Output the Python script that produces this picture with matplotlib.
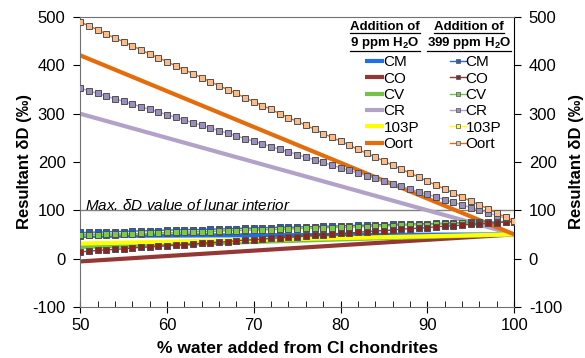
import numpy as np
import matplotlib.pyplot as plt
from matplotlib.lines import Line2D

plt.rcParams['font.family'] = ['Liberation Sans', 'DejaVu Sans']
plt.rcParams['mathtext.fontset'] = 'custom'
plt.rcParams['mathtext.rm'] = 'Liberation Sans'
plt.rcParams['mathtext.bf'] = 'Liberation Sans:bold'
plt.rcParams['mathtext.it'] = 'Liberation Sans:italic'
plt.rcParams['axes.unicode_minus'] = False

groups = ['CM', 'CO', 'CV', 'CR', '103P', 'Oort']
line_colors = ['#1f6fe8', '#953735', '#77c148', '#b3a2c7', '#ffff00', '#e46c0a']
marker_colors = ['#1f5fd0', '#8b2525', '#7cc84a', '#9b8fbd', '#ffff40', '#f9bb8c']

# 9 ppm H2O addition: straight mixing lines, read at 50 % and 100 %
x_line = [50, 100]
low_add = {
    'CM': [47, 50],
    'CO': [-6, 50],
    'CV': [24, 50],
    'CR': [300, 50],
    '103P': [31, 50],
    'Oort': [421, 50],
}

# 399 ppm H2O addition: one marker per 1 % step
x_pts = np.arange(50, 101)
high_add = {
    'CM': [54, 54, 55, 55, 56, 56, 57, 57, 58, 58, 59, 59, 60, 60, 60, 61, 61, 62, 62, 63,
           63, 64, 64, 65, 65, 65, 66, 66, 67, 67, 68, 68, 69, 69, 70, 70, 71, 71, 71, 72,
           72, 73, 73, 74, 74, 75, 75, 76, 76, 77, 77],
    'CO': [14, 15, 17, 18, 19, 20, 22, 23, 24, 25, 27, 28, 29, 30, 32, 33, 34, 35, 37, 38,
           39, 40, 42, 43, 44, 45, 47, 48, 49, 51, 52, 53, 54, 56, 57, 58, 59, 61, 62, 63,
           64, 66, 67, 68, 69, 71, 72, 73, 74, 76, 77],
    'CV': [48, 49, 49, 50, 50, 51, 51, 52, 52, 53, 54, 54, 55, 55, 56, 56, 57, 58, 58, 59,
           59, 60, 60, 61, 61, 62, 63, 63, 64, 64, 65, 65, 66, 66, 67, 68, 68, 69, 69, 70,
           70, 71, 72, 72, 73, 73, 74, 74, 75, 75, 76],
    'CR': [353, 347.5, 342, 336.5, 331, 325.5, 320, 314.5, 309, 303.5, 298, 292.5, 287,
           281.5, 276, 270.5, 265, 259.5, 254, 248.5, 243, 237.5, 232, 226.5, 221, 215.5,
           210, 204.5, 199, 193.5, 188, 182.5, 177, 171.5, 166, 160.5, 155, 149.5, 144,
           138.5, 133, 127.5, 122, 116.5, 111, 105.5, 100, 94.5, 89, 83.5, 78],
    '103P': [47, 48, 48, 49, 49, 50, 50, 51, 52, 52, 53, 53, 54, 55, 55, 56, 56, 57, 57, 58,
             59, 59, 60, 60, 61, 62, 62, 63, 63, 64, 64, 65, 66, 66, 67, 67, 68, 69, 69, 70,
             70, 71, 71, 72, 73, 73, 74, 74, 75, 75, 76],
    'Oort': [490, 482, 474, 465, 457, 449, 441, 432, 424, 416, 408, 399, 391, 383, 375, 366,
             358, 350, 342, 333, 325, 317, 309, 300, 292, 284, 276, 268, 259, 251, 243, 235,
             226, 218, 210, 202, 193, 185, 177, 169, 160, 152, 144, 136, 127, 119, 111, 103,
             94, 86, 78],
}
lunar_max = 100

fig = plt.figure(figsize=(5.85, 3.58), dpi=100)
ax = fig.add_axes([0.137, 0.143, 0.742, 0.809])

ax.axhline(lunar_max, color='#808080', lw=1, zorder=1)
ax.text(50.6, lunar_max + 1, r'Max. $\mathit{\delta}$D value of lunar interior',
        style='italic', fontsize=11, va='baseline', ha='left')

line_handles = []
for name, c in zip(groups, line_colors):
    h, = ax.plot(x_line, low_add[name], color=c, lw=3, solid_capstyle='butt', zorder=2)
    line_handles.append(h)

marker_handles = {}
draw_order = ['CM', '103P', 'CV', 'CO', 'CR', 'Oort']
for name in draw_order:
    i = groups.index(name)
    h, = ax.plot(x_pts, high_add[name], color=line_colors[i], lw=1, marker='s',
                 markersize=4.4, markerfacecolor=marker_colors[i],
                 markeredgecolor='#505050', markeredgewidth=0.7, zorder=3)
    marker_handles[name] = h

ax.set_xlim(50, 100)
ax.set_ylim(-100, 500)
ax.set_xticks(range(50, 101, 10))
ax.set_xticks(range(50, 101, 2), minor=True)
ax.set_yticks(range(-100, 501, 100))
ax.tick_params(axis='x', which='major', direction='inout', length=8, labelsize=12, pad=4)
ax.tick_params(axis='x', which='minor', direction='in', length=4)
ax.tick_params(axis='y', which='major', direction='out', length=5, labelsize=12, pad=5.5,
               left=True, right=True, labelleft=True, labelright=True)

for s in ['left', 'bottom', 'top']:
    ax.spines[s].set_color('#707070')
ax.spines['right'].set_color('black')

ax.set_xlabel('% water added from CI chondrites', fontsize=12.5, fontweight='bold', labelpad=6)
ax.set_ylabel('Resultant δD (‰)', fontsize=12, fontweight='bold', labelpad=0)
fig.text(0.986, 0.55, 'Resultant δD (‰)', fontsize=12, fontweight='bold', rotation=90,
         ha='center', va='center')

leg1 = ax.legend(line_handles, groups, loc='upper right',
                 bbox_to_anchor=(0.781, 0.868), frameon=False, fontsize=11,
                 handlelength=1.2, handletextpad=0,
                 labelspacing=0.15, borderpad=0, borderaxespad=0)
ax.add_artist(leg1)
mh = [Line2D([], [], color=marker_handles[n].get_color(), lw=1, marker='s', markersize=3.3,
             markerfacecolor=marker_handles[n].get_markerfacecolor(),
             markeredgecolor='#505050', markeredgewidth=0.5) for n in groups]
leg2 = ax.legend(mh, groups, loc='upper right', bbox_to_anchor=(0.970, 0.868),
                 frameon=False, fontsize=11, handlelength=1.05,
                 handletextpad=0, labelspacing=0.15, borderpad=0, borderaxespad=0)

# column headers, bold and underlined
headers = [(0.702, 'Addition of', '9 ppm H$_\\mathbf{2}$O'),
           (0.896, 'Addition of', '399 ppm H$_\\mathbf{2}$O')]
head_texts = []
for xh, l1, l2 in headers:
    head_texts.append(ax.text(xh, 0.967, l1, transform=ax.transAxes, ha='center',
                              va='center', fontsize=9.5, fontweight='bold'))
    head_texts.append(ax.text(xh, 0.910, l2, transform=ax.transAxes, ha='center',
                              va='center', fontsize=9.5, fontweight='bold'))
fig.canvas.draw()
inv = fig.transFigure.inverted()
for t in head_texts:
    bb = t.get_window_extent()
    (x0, y0), (x1, _) = inv.transform([(bb.x0, bb.y0), (bb.x1, bb.y1)])
    fig.add_artist(Line2D([x0, x1], [y0, y0], color='black', lw=0.9,
                          transform=fig.transFigure))

plt.savefig('out.png', dpi=100)
plt.close()
